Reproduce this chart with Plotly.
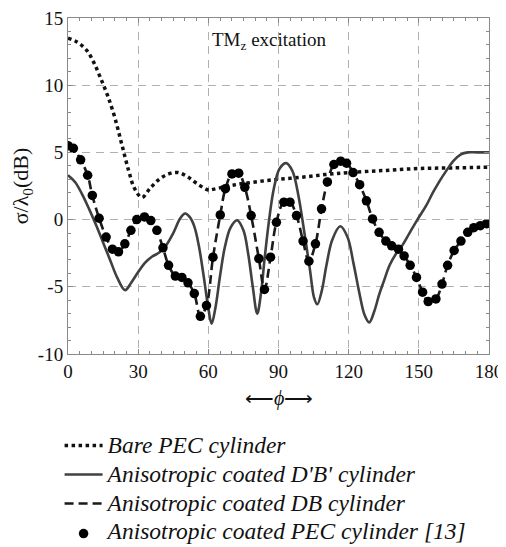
import plotly.graph_objects as go

# ---- data ----
bare_phi = [0, 4, 8, 11, 14, 17, 20, 23, 26, 28.5, 31.6, 35, 39, 43, 47, 51, 55, 60,
            62, 70, 80, 90, 100, 110, 120, 135, 150, 165, 180]
bare_val = [13.5, 13.2, 12.6, 11.7, 10.5, 9.2, 7.6, 5.6, 3.6, 2.3, 1.65, 2.3, 3.0, 3.4, 3.5, 3.2, 2.7, 2.2,
            2.25, 2.55, 2.8, 3.0, 3.15, 3.35, 3.5, 3.65, 3.8, 3.85, 3.9]

dpbp_phi = [0, 3, 6, 9, 12, 15, 18, 21, 24.4, 27, 30, 33, 36, 39, 42, 45, 48, 50.1,
            52, 54, 56, 58, 60, 61.4, 63, 65, 67, 69.5, 72.3, 75, 77, 79, 80.9, 82.5,
            84, 86, 88, 90.5, 93.3, 96, 98.5, 101, 103.5, 105.2, 106.6, 108.5, 110.5,
            113, 116.4, 119.5, 122, 124.5, 126.8, 128.8, 131, 133, 135, 137.5, 140.4,
            143, 146, 149.4, 153, 156, 159, 162, 165, 168, 171, 175, 180]
dpbp_val = [3.3, 2.8, 1.9, 0.8, -0.4, -1.7, -3.0, -4.3, -5.25, -4.7, -3.9, -3.2, -2.75, -2.45, -1.9, -1.0, 0.1, 0.45,
            0.2, -0.5, -2.0, -4.2, -6.6, -7.75, -6.6, -4.2, -2.1, -0.6, -0.05, -0.8, -2.5, -5.0, -7.0, -5.5,
            -3.0, 0.0, 2.3, 3.8, 4.2, 3.6, 1.8, -0.9, -3.8, -5.8, -6.3, -5.3, -3.4,
            -1.5, -0.5, -1.3, -3.2, -5.4, -7.1, -7.65, -6.8, -5.6, -4.6, -3.4, -2.5,
            -1.9, -1.0, 0.0, 1.0, 2.0, 2.9, 3.7, 4.4, 4.85, 5.0, 5.0, 5.0]

pec13_phi = [0, 2.3, 5.4, 8.4, 10.4, 13.3, 16.3, 19, 21.6, 24.3, 26.9, 29.4, 32.7, 35.4, 38, 40.6,
             43, 45.9, 48.7, 51.3, 54, 56.6, 59.2, 62, 65.1, 67.3, 70.1, 73, 75.6, 78.3, 81.6, 84,
             86.6, 89.1, 92.3, 94.9, 97.7, 100.5, 103, 105.8, 108.4, 110.9, 113.7, 116.6, 119.1,
             121.9, 124.7, 127.6, 130.2, 133, 135.9, 138.4, 141.3, 143.7, 146.3, 149, 151.6, 154,
             157.3, 159.9, 162.3, 165.1, 168, 170.9, 173.5, 176.3, 179]
pec13_val = [5.5, 5.3, 4.45, 3.3, 1.8, 0.1, -1.3, -2.2, -2.4, -1.8, -0.8, 0.0, 0.2, -0.07, -0.8, -2.1,
             -3.4, -4.2, -4.3, -4.7, -5.5, -7.2, -6.4, -2.8, 0.35, 2.3, 3.4, 3.45, 2.4, 0.3, -2.9, -5.2,
             -2.8, -0.2, 1.3, 1.3, 0.3, -1.6, -3.1, -1.8, 0.8, 2.8, 4.1, 4.35, 4.2,
             3.5, 2.6, 1.4, 0.05, -0.95, -1.6, -1.95, -2.2, -2.7, -3.4, -4.3, -5.4, -6.1,
             -5.9, -4.8, -3.4, -2.3, -1.6, -0.95, -0.6, -0.45, -0.3]

db_phi = pec13_phi
db_val = pec13_val

x_ticks = [0, 30, 60, 90, 120, 150, 180]
y_ticks = [-10, -5, 0, 5, 10, 15]

names = ["Bare PEC cylinder",
         "Anisotropic coated D'B' cylinder",
         "Anisotropic coated DB cylinder",
         "Anisotropic coated PEC cylinder [13]"]

FONT = "Liberation Serif"


def leg_name(s):
    return '<span style="font-size:23.5px"><i>%s</i></span>' % s


fig = go.Figure()
fig.add_trace(go.Scatter(x=bare_phi, y=bare_val, mode="lines", name=leg_name(names[0]),
                         line=dict(color="#111111", width=3.5, dash="dot", shape="spline"),
                         legend="legend"))
fig.add_trace(go.Scatter(x=dpbp_phi, y=dpbp_val, mode="lines", name=leg_name(names[1]),
                         line=dict(color="#404040", width=2.6, shape="spline"),
                         legend="legend"))
fig.add_trace(go.Scatter(x=db_phi, y=db_val, mode="lines", name=leg_name(names[2]),
                         line=dict(color="#1a1a1a", width=2.6, dash="9px,5px", shape="spline"),
                         legend="legend"))
fig.add_trace(go.Scatter(x=pec13_phi, y=pec13_val, mode="markers", name=leg_name(names[3]),
                         marker=dict(color="#000000", size=9.5),
                         legend="legend2"))

axis_common = dict(showline=True, linecolor="#8a8a8a", linewidth=1, mirror="allticks",
                   ticks="inside", ticklen=5, tickcolor="#8a8a8a", automargin=False,
                   showgrid=True, gridcolor="#b0b0b0", gridwidth=1.2, griddash="8px,6px",
                   zeroline=False, ticklabeloverflow="allow",
                   tickfont=dict(family=FONT, size=19, color="#111111"))

fig.update_xaxes(range=[0, 180], tickvals=x_ticks, ticktext=[str(v) for v in x_ticks],
                 minor=dict(dtick=5, tick0=0, ticks="inside", ticklen=3, tickcolor="#8a8a8a", showgrid=False),
                 **axis_common)
fig.update_yaxes(range=[-10, 15], tickvals=y_ticks, ticktext=[str(v) for v in y_ticks],
                 minor=dict(dtick=1, tick0=0, ticks="inside", ticklen=3, tickcolor="#8a8a8a", showgrid=False),
                 title=dict(text="σ/λ<sub>0</sub>(dB)", font=dict(family=FONT, size=22, color="#111111"),
                            standoff=8),
                 **axis_common)

# figure is drawn 8px in from the page corner, so size/margins are set for a 498x539 figure
W, HT = 498, 539
M = dict(l=60, r=17, t=10, b=193)
H = HT - M["t"] - M["b"]
leg_common = dict(bgcolor="rgba(0,0,0,0)", x=-0.02, xanchor="left", yanchor="top",
                  itemwidth=38, borderwidth=0, tracegroupgap=0)
fig.update_layout(
    legend=dict(font=dict(family=FONT, size=20, color="#111111"), y=-(426 - 354) / H, **leg_common),
    legend2=dict(font=dict(family=FONT, size=14, color="#111111"), y=-(518 - 354) / H, **leg_common),
)

fig.add_annotation(x=90, y=-(398 - 354) / H, xref="x", yref="paper", text="⟵<i>ϕ</i>⟶",
                   showarrow=False, font=dict(family=FONT, size=20, color="#111111"),
                   xanchor="center", yanchor="middle")
fig.add_annotation(x=60.5, y=13.3, xref="x", yref="y", text="TM<sub>z</sub> excitation",
                   showarrow=False, font=dict(family=FONT, size=19, color="#111111"),
                   xanchor="left", yanchor="middle")

fig.update_layout(width=W, height=HT, margin=dict(autoexpand=False, **M),
                  paper_bgcolor="white", plot_bgcolor="white", showlegend=True)

fig.write_html("out.html")
